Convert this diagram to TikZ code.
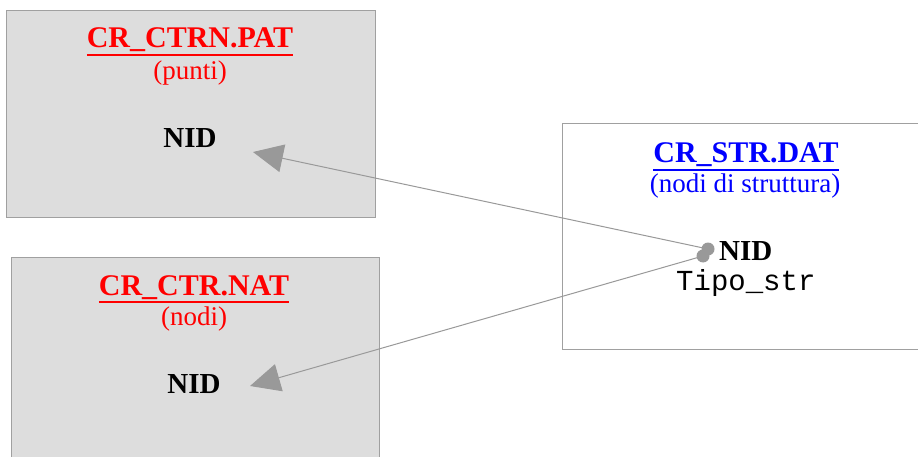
\documentclass[tikz,border=0pt]{standalone}
\usepackage{fontspec}
\setmainfont{Liberation Serif}
\setmonofont{Liberation Mono}
\usetikzlibrary{arrows.meta}
\definecolor{boxfill}{HTML}{DDDDDD}
\definecolor{boxline}{HTML}{A0A0A0}
\definecolor{conncol}{HTML}{999999}
\newcommand\ulx[1]{\leavevmode\vtop{\hbox{#1}\kern1.4pt\hrule height 2.4pt}}
\begin{document}
\begin{tikzpicture}[x=1pt,y=-1pt,
  filebox/.style={draw=boxline,line width=1pt,rectangle,inner sep=0pt},
  lbl/.style={anchor=base,inner sep=0pt,font=\fontsize{27}{30}\selectfont},
  ttl/.style={lbl,font=\fontsize{30}{32}\selectfont\bfseries},
  key/.style={lbl,font=\fontsize{29}{31}\selectfont\bfseries},
  mono/.style={lbl,font=\fontsize{29}{31}\selectfont\ttfamily},
  conn/.style={draw=conncol,line width=1pt,-{Triangle[length=30pt,width=28pt]}},
  dot/.style={circle,fill=conncol,inner sep=0pt,minimum size=13pt}]
\useasboundingbox (0,0) rectangle (918,457);
\clip (0,0) rectangle (918,457);
% boxes
\node[filebox,fill=boxfill,minimum width=369pt,minimum height=207pt] (b1) at (190.5,114.5) {};
\node[filebox,fill=boxfill,minimum width=368pt,minimum height=213pt] (b2) at (195,363.5) {};
\node[filebox,fill=white,minimum width=368pt,minimum height=225pt] (b3) at (746,236.5) {};
% box 1
\node[ttl,text=red] (t1) at (190,48) {\ulx{CR\_CTRN.PAT}};
\node[lbl,text=red] (s1) at (190,80) {(punti)};
\node[key] (n1) at (190,148) {NID};
% box 2
\node[ttl,text=red] (t2) at (194,295) {\ulx{CR\_CTR.NAT}};
\node[lbl,text=red] (s2) at (194,325) {(nodi)};
\node[key] (n2) at (194,393) {NID};
% box 3
\node[ttl,text=blue] (t3) at (746,163) {\ulx{CR\_STR.DAT}};
\node[lbl,text=blue] (s3) at (745,193) {(nodi di struttura)};
\node[key,anchor=base west] (n3) at (719,260) {NID};
\node[mono,anchor=base west] (ts) at (676,290) {Tipo\_str};
% connectors
\coordinate (a1) at (253,152);
\coordinate (a2) at (250,386);
\node[dot] (d1) at (708,249) {};
\node[dot] (d2) at (703,256) {};
\draw[conn] (d1.center) -- (a1);
\draw[conn] (d2.center) -- (a2);
\end{tikzpicture}
\end{document}
